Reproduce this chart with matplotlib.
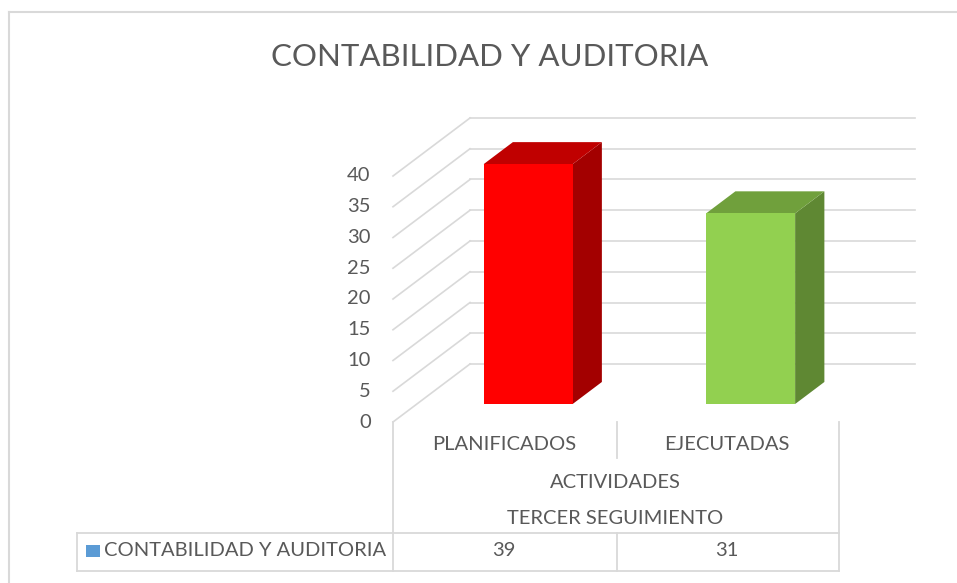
import numpy as np
import matplotlib
matplotlib.use("Agg")
import matplotlib.pyplot as plt
from matplotlib.patches import Polygon, Rectangle
from matplotlib.lines import Line2D

plt.rcParams['font.family'] = ['Lato', 'DejaVu Sans']

# data
title = "CONTABILIDAD Y AUDITORIA"
categories = ["PLANIFICADOS", "EJECUTADAS"]
group_labels = ["ACTIVIDADES", "TERCER SEGUIMIENTO"]
series_name = "CONTABILIDAD Y AUDITORIA"
values = [39, 31]
y_ticks = [0, 5, 10, 15, 20, 25, 30, 35, 40]

front_colors = ["#FF0000", "#92D050"]
top_colors = ["#C00000", "#70A03C"]
side_colors = ["#A30000", "#5F8833"]

W, H = 957, 583
GRID = "#D9D9D9"
TXT = "#595959"
FS = 14.5


def px(x, y):
    # pixel (from top-left) -> figure fraction
    return x / W, 1 - y / H


fig = plt.figure(figsize=(W / 100, H / 100), dpi=100)

# front plane of the 3D box: x in category units, y in value units
x0, x1, yb, ppv = 393, 838, 422, 6.15
ymax = 50
ax = fig.add_axes([x0 / W, (H - yb) / H, (x1 - x0) / W, ymax * ppv / H])
ax.set_xlim(0, len(categories))
ax.set_ylim(0, ymax)
ax.axis("off")

cat_px = (x1 - x0) / len(categories)
dx_wall, dy_wall = 77 / cat_px, 58 / ppv   # depth offset of the back wall
d_front, d_back = 0.31, 0.69               # bar depth inside the box
bar_w = 0.4

# back wall gridlines + left wall diagonals
for v in y_ticks:
    ax.plot([dx_wall, len(categories) + dx_wall], [v + dy_wall, v + dy_wall],
            color=GRID, lw=1.2, clip_on=False, zorder=1)
    ax.plot([0, dx_wall], [v, v + dy_wall], color=GRID, lw=1.2,
            clip_on=False, zorder=1)
    ax.text(-0.1, v, str(v), ha="right", va="center", fontsize=FS,
            color=TXT, clip_on=False)

# 3D bars
fx, fy = d_front * dx_wall, d_front * dy_wall
bx, by = d_back * dx_wall, d_back * dy_wall
centers = np.arange(len(categories)) + 0.5
for c, v, fc, tc, sc in zip(centers, values, front_colors, top_colors, side_colors):
    l, r = c - bar_w / 2, c + bar_w / 2
    side = Polygon([(r + fx, fy), (r + bx, by), (r + bx, v + by), (r + fx, v + fy)],
                   closed=True, fc=sc, ec="none", zorder=3, clip_on=False)
    top = Polygon([(l + fx, v + fy), (r + fx, v + fy), (r + bx, v + by), (l + bx, v + by)],
                  closed=True, fc=tc, ec="none", zorder=3, clip_on=False)
    ax.add_patch(side)
    ax.add_patch(top)
ax.bar(centers + fx, values, width=bar_w, bottom=fy, color=front_colors,
       zorder=4, clip_on=False)

# title
fig.text(*px(490, 57), title, ha="center", va="center", fontsize=22.5, color=TXT)

# outer chart border
for (xa, ya), (xb, yb2) in [((9, 12), (W, 12)), ((9, 12), (9, H))]:
    fig.add_artist(Line2D([px(xa, ya)[0], px(xb, yb2)[0]],
                          [px(xa, ya)[1], px(xb, yb2)[1]], color=GRID, lw=1.5))

# data table lines
table_lines = [
    ((393, 422), (393, 571)),
    ((617, 422), (617, 458)),
    ((617, 533), (617, 571)),
    ((839, 422), (839, 571)),
    ((77, 533), (839, 533)),
    ((77, 571), (839, 571)),
    ((77, 533), (77, 571)),
]
for (xa, ya), (xb, yb2) in table_lines:
    fig.add_artist(Line2D([px(xa, ya)[0], px(xb, yb2)[0]],
                          [px(xa, ya)[1], px(xb, yb2)[1]], color=GRID, lw=1.3))

# table texts
for c, lab, v in zip(centers, categories, values):
    xf = ax.transData.transform((c, 0))[0] / W
    fig.text(xf, px(0, 444)[1], lab, ha="center", va="center", fontsize=FS, color=TXT)
    fig.text(xf, px(0, 551)[1], str(v), ha="center", va="center", fontsize=FS, color=TXT)

mid = ax.transData.transform((len(categories) / 2, 0))[0] / W
fig.text(mid, px(0, 482)[1], group_labels[0], ha="center", va="center", fontsize=FS, color=TXT)
fig.text(mid, px(0, 518)[1], group_labels[1], ha="center", va="center", fontsize=FS, color=TXT)

fig.add_artist(Rectangle(px(86, 557), 14 / W, 12 / H, fc="#5B9BD5", ec="none"))
fig.text(*px(104, 551), series_name, ha="left", va="center", fontsize=FS, color=TXT)

fig.savefig("out.png", dpi=100)
